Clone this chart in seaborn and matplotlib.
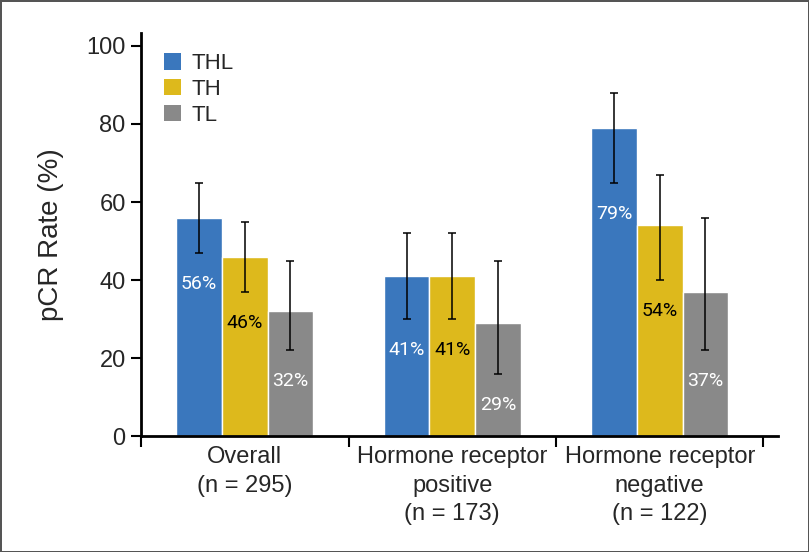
import matplotlib
matplotlib.use("Agg")
import matplotlib.pyplot as plt
import seaborn as sns
import pandas as pd
from matplotlib.patches import Patch

groups = ["Overall\n(n = 295)",
          "Hormone receptor\npositive\n(n = 173)",
          "Hormone receptor\nnegative\n(n = 122)"]
arms = ["THL", "TH", "TL"]
thl = [56, 41, 79]
th = [46, 41, 54]
tl = [32, 29, 37]
thl_lo = [47, 30, 65]
thl_hi = [65, 52, 88]
th_lo = [37, 30, 40]
th_hi = [55, 52, 67]
tl_lo = [22, 16, 22]
tl_hi = [45, 45, 56]

colors = ["#3A77BD", "#DDB91C", "#898989"]
text_colors = ["white", "black", "white"]

rows = []
for arm, vals in zip(arms, [thl, th, tl]):
    for g, v in zip(groups, vals):
        rows.append({"group": g, "arm": arm, "rate": v})
df = pd.DataFrame(rows)

sns.set_style("white")
plt.rcParams["font.family"] = ["Liberation Sans", "DejaVu Sans"]

fig = plt.figure(figsize=(8.09, 5.52), dpi=100)
fig.patch.set_edgecolor("#555555")
fig.patch.set_linewidth(2)
ax = fig.add_axes([0.1743, 0.2101, 0.7874, 0.7299])

sns.barplot(data=df, x="group", y="rate", hue="arm", hue_order=arms,
            palette=colors, width=0.66, gap=0, errorbar=None,
            saturation=1, legend=False, ax=ax)

lows = [thl_lo, th_lo, tl_lo]
highs = [thl_hi, th_hi, tl_hi]
vals_all = [thl, th, tl]
bar_sets = list(ax.containers)
for i, cont in enumerate(bar_sets):
    for j, bar in enumerate(cont):
        x = bar.get_x() + bar.get_width() / 2
        v = vals_all[i][j]
        lo, hi = lows[i][j], highs[i][j]
        ax.errorbar(x, v, yerr=[[v - lo], [hi - v]], fmt="none",
                    ecolor="black", elinewidth=1.1, capsize=3, capthick=1.1)
        ax.text(x, lo - 8, f"{v}%", ha="center", va="center",
                color=text_colors[i], fontsize=14,
                family=["Roboto", "DejaVu Sans"])

ax.set_xlim(-0.5, 2.57)
ax.set_ylim(0, 103.3)
ax.set_yticks([0, 20, 40, 60, 80, 100])
ax.set_xticks([-0.5, 0.5, 1.5, 2.5])
ax.set_xticklabels([])
ax.set_xticks([0, 1, 2], minor=True)
ax.set_xticklabels(groups, minor=True, fontsize=17, linespacing=1.4,
                   va="top")
ax.tick_params(axis="x", which="major", length=8, width=1.5, color="black",
               direction="out", bottom=True)
ax.tick_params(axis="x", which="minor", length=0, pad=7)
ax.tick_params(axis="y", length=7, width=1.5, color="black", direction="out",
               left=True, labelsize=17, pad=4)

ax.set_xlabel("")
ax.set_ylabel("pCR Rate (%)", fontsize=20, labelpad=16)
sns.despine(ax=ax)
for s in ["left", "bottom"]:
    ax.spines[s].set_color("black")
    ax.spines[s].set_linewidth(2)

handles = [Patch(facecolor=c, edgecolor="none", label=a)
           for c, a in zip(colors, arms)]
ax.legend(handles=handles, loc="upper left", bbox_to_anchor=(0.005, 1.0),
          frameon=False, handlelength=0.75, handleheight=0.75,
          handletextpad=0.5, labelspacing=0.22, fontsize=16)

fig.savefig("out.png", dpi=100)
